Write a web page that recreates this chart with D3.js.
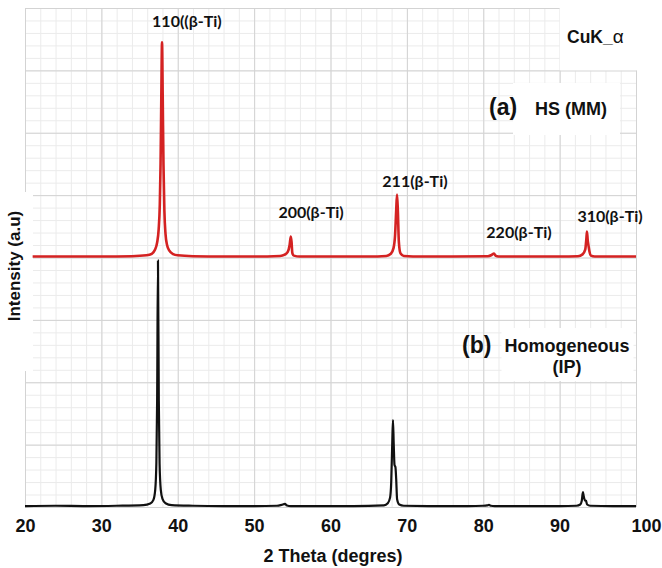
<!DOCTYPE html>
<html>
<head>
<meta charset="utf-8">
<script src="https://cdn.jsdelivr.net/npm/d3@7"></script>
<style>
  body { margin: 0; background: #fff; }
  text { font-family: "Liberation Sans", Arial, sans-serif; font-weight: bold; fill: #111; }
  .peak { font-family: Lato, "Open Sans", sans-serif; font-size: 16px; }
</style>
</head>
<body>
<div class="chart"></div>
<script>
// DATA ------------------------------------

// (a) HS (MM), intensity above its own baseline
const hsPattern = [
  [21, 3], [25, 3], [30, 3], [34, 4], [35.9, 7], [36.6, 12], [37.0, 24], [37.3, 48], [37.5, 90],
  [37.65, 170], [37.75, 300], [37.85, 520], [37.94, 690], [38.03, 520], [38.13, 300],
  [38.25, 150], [38.4, 75], [38.6, 40], [38.9, 22], [39.4, 11], [40.0, 7], [42, 4],
  [46, 3], [50, 3], [53.4, 5], [54.0, 9], [54.4, 18], [54.65, 40], [54.8, 67], [54.9, 50],
  [55.0, 15], [55.2, 6], [56, 3], [60, 3], [65, 3], [67.3, 5], [67.9, 12], [68.25, 30],
  [68.45, 70], [68.6, 150], [68.71, 202], [68.82, 150], [68.95, 50], [69.15, 14],
  [69.6, 5], [72, 3], [76, 3], [80.6, 4], [81.1, 8], [81.41, 13], [81.6, 6], [82.0, 3],
  [86, 3], [90, 3], [92.4, 4], [93.0, 10], [93.35, 25], [93.5, 60], [93.58, 83],
  [93.68, 55], [93.8, 35], [93.9, 20], [94.1, 6], [94.6, 3], [97, 3], [100, 3]
];
const hsOffset = 800;

// (b) Homogeneous (IP)
const ipPattern = [
  [20, 3], [24, 4], [28, 3], [32, 4], [35.5, 6], [36.4, 11], [36.8, 22], [37.05, 55],
  [37.2, 140], [37.3, 340], [37.41, 790], [37.52, 340], [37.62, 140], [37.78, 55],
  [38.0, 26], [38.4, 12], [39.2, 6], [42, 4], [46, 3], [50, 3], [53.0, 4], [53.6, 7],
  [54.04, 10], [54.3, 5], [54.8, 3], [58, 3], [63, 3], [67.0, 5], [67.5, 12], [67.8, 30],
  [67.95, 80], [68.08, 200], [68.18, 279], [68.28, 200], [68.38, 135], [68.5, 128],
  [68.6, 90], [68.72, 25], [69.0, 8], [69.6, 4], [74, 3], [78, 3], [80.0, 4], [80.5, 5],
  [80.75, 7], [81.0, 4], [81.5, 3], [86, 3], [90, 3], [92.2, 4], [92.7, 8], [92.9, 20],
  [93.0, 40], [93.06, 48], [93.15, 35], [93.3, 22], [93.45, 20], [93.6, 8], [94.0, 4],
  [97, 3], [100, 3]
];

const peakLabels = ["110((β-Ti)", "200(β-Ti)", "211(β-Ti)", "220(β-Ti)", "310(β-Ti)"];
const peakLabelTheta = [41.2, 57.45, 71.06, 84.68, 96.6];
const peakLabelInt = [1539, 927, 1026, 862, 914];

const xTicks = [20, 30, 40, 50, 60, 70, 80, 90, 100];

// CHART -----------------------------------

const margin = ({top: 8, right: 26, bottom: 61, left: 25});
const width = 662 - margin.left - margin.right;
const height = 568 - margin.top - margin.bottom;

const svg = d3.select(".chart").append("svg")
    .attr("width", width + margin.left + margin.right)
    .attr("height", height + margin.top + margin.bottom)
  .append("g")
    .attr("transform", "translate(" + margin.left + "," + margin.top + ")");

const xScale = d3.scaleLinear().domain([20, 100]).range([0, width]);
const yScale = d3.scaleLinear().domain([0, 1600]).range([height, 0]);

// grid: minor first, then major
function grid(xt, yt, color) {
  svg.append("g")
      .attr("transform", `translate(0, ${height})`)
      .call(d3.axisBottom(xScale).tickValues(xt).tickSize(-height).tickFormat(""))
      .call(g => g.select(".domain").remove())
      .call(g => g.selectAll("line").attr("stroke", color));
  svg.append("g")
      .call(d3.axisLeft(yScale).tickValues(yt).tickSize(-width).tickFormat(""))
      .call(g => g.select(".domain").remove())
      .call(g => g.selectAll("line").attr("stroke", color));
}
grid(d3.range(20, 101, 2), d3.range(0, 1601, 40), "#ebebeb");
grid(d3.range(20, 101, 10), d3.range(0, 1601, 200), "#d3d3d3");

// white strip behind the y title
svg.append("rect")
    .attr("x", 0).attr("width", 8)
    .attr("y", yScale(1010)).attr("height", yScale(436) - yScale(1010))
    .attr("fill", "#fff");

// CuK box covers one grid cell
svg.append("rect")
    .attr("x", xScale(90)).attr("y", yScale(1600))
    .attr("width", xScale(100) - xScale(90) + 1)
    .attr("height", yScale(1400) - yScale(1600))
    .attr("fill", "#fff");

const line = d3.line()
    .x(d => xScale(d[0]))
    .curve(d3.curveMonotoneX);

svg.append("path")
    .datum(ipPattern)
    .attr("fill", "none")
    .attr("stroke", "#111")
    .attr("stroke-width", 2.2)
    .attr("d", line.y(d => yScale(d[1])));

svg.append("path")
    .datum(hsPattern)
    .attr("fill", "none")
    .attr("stroke", "#d42222")
    .attr("stroke-width", 2.6)
    .attr("d", line.y(d => yScale(d[1] + hsOffset)));

// peak labels
svg.selectAll(".peak")
    .data(peakLabels)
    .enter().append("text")
    .attr("class", "peak")
    .attr("text-anchor", "middle")
    .attr("x", (d, i) => xScale(peakLabelTheta[i]))
    .attr("y", (d, i) => yScale(peakLabelInt[i]))
    .text(d => d);

// legends with white backing boxes
function boxed(g, pad) {
  const b = g.node().getBBox();
  g.insert("rect", ":first-child")
      .attr("x", b.x - pad[3]).attr("y", b.y - pad[0])
      .attr("width", b.width + pad[1] + pad[3])
      .attr("height", b.height + pad[0] + pad[2])
      .attr("fill", "#fff");
}

const cu = svg.append("text")
    .attr("x", 542).attr("y", 35)
    .style("font-size", "17.5px");
cu.append("tspan").text("CuK_");
cu.append("tspan").attr("font-weight", "normal").style("font-size", "19px").text("α");

const hs = svg.append("g");
hs.append("text")
    .attr("x", 510).attr("y", 107)
    .style("font-size", "18px")
    .text("HS (MM)");
boxed(hs, [16, 13, 16, 22]);
svg.append("text")
    .attr("x", 464).attr("y", 107)
    .style("font-size", "23px")
    .text("(a)");

const ip = svg.append("g");
ip.append("text")
    .attr("x", 542).attr("y", 344)
    .attr("text-anchor", "middle")
    .style("font-size", "18px")
    .text("Homogeneous");
ip.append("text")
    .attr("x", 542).attr("y", 365)
    .attr("text-anchor", "middle")
    .style("font-size", "18px")
    .text("(IP)");
boxed(ip, [8, 4, 4, 3]);
svg.append("text")
    .attr("x", 437).attr("y", 345)
    .style("font-size", "23px")
    .text("(b)");

// x axis labels
svg.append("g")
    .attr("transform", `translate(0, ${height})`)
    .call(d3.axisBottom(xScale).tickValues(xTicks).tickSize(0).tickPadding(12))
    .call(g => g.select(".domain").remove())
    .call(g => g.selectAll("text")
        .style("font-size", "18px")
        .style("font-family", "'Liberation Sans', Arial, sans-serif")
        .style("font-weight", "bold")
        .attr("fill", "#111"))
    .call(g => g.selectAll(".tick").filter(d => d === 100).select("text").attr("dx", 10));

svg.append("text")
    .attr("x", 308).attr("y", height + 55)
    .attr("text-anchor", "middle")
    .style("font-size", "18px")
    .text("2 Theta (degres)");

svg.append("text")
    .attr("transform", "rotate(-90)")
    .attr("x", -258).attr("y", -5)
    .attr("text-anchor", "middle")
    .style("font-size", "17px")
    .text("Intensity (a.u)");
</script>
</body>
</html>
